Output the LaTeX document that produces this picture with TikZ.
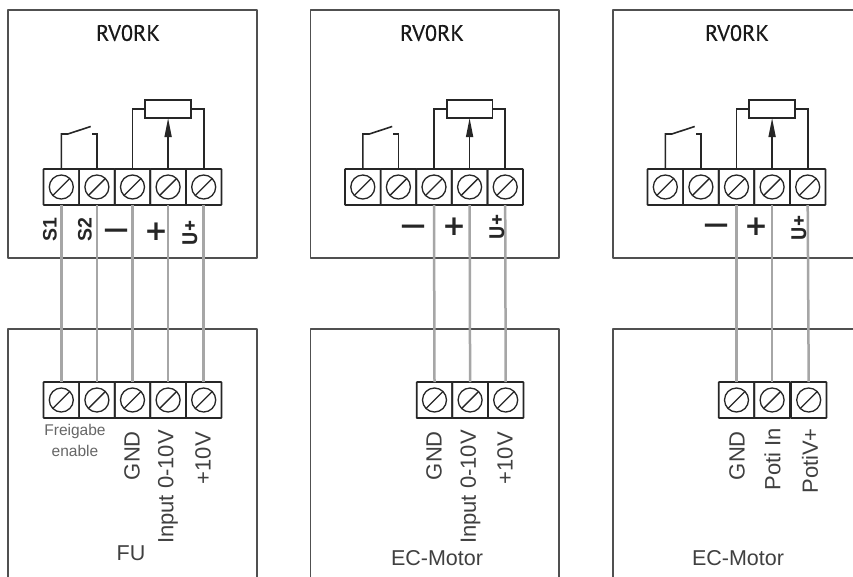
\documentclass[tikz,border=0pt]{standalone}
\usepackage{fontspec}
\setmainfont{Liberation Sans}
\newfontfamily\dinfont{PT Sans}
\newfontfamily\titlefont[FakeBold=0.5]{PT Sans}
\newfontfamily\symfont{DejaVu Sans}
\usetikzlibrary{arrows.meta}
\definecolor{boxgray}{HTML}{505050}
\definecolor{inkdark}{HTML}{262626}
\definecolor{wiregray}{HTML}{A6A6A6}
\definecolor{labelgray}{HTML}{404040}
\tikzset{
  housing/.style={draw=boxgray,line width=1.7pt,line join=round},
  termcell/.style={draw=inkdark,line width=1.7pt,rectangle,minimum width=35.6pt,minimum height=36pt,inner sep=0pt,outer sep=0pt,rounded corners=0.5pt},
  screwhead/.style={draw=inkdark,line width=1.3pt,circle,minimum size=24pt,inner sep=0pt,
    path picture={\draw[inkdark,line width=1.3pt] (path picture bounding box.south west)--(path picture bounding box.north east);}},
  intwire/.style={draw=inkdark,line width=1.6pt},
  linkwire/.style={draw=wiregray,line width=2.5pt},
  potbox/.style={draw=inkdark,line width=1.7pt,rectangle,minimum width=45.8pt,minimum height=18pt,inner sep=0pt,outer sep=0pt},
  wiper/.style={intwire,-{Triangle[length=19pt,width=7pt]}},
  titletext/.style={font=\titlefont\fontsize{22.3}{22.3}\selectfont,text=black!90},
  polebold/.style={font=\bfseries\fontsize{19.5}{19.5}\selectfont,text=inkdark,rotate=90,inner sep=0pt},
  polesym/.style={font=\symfont\bfseries\fontsize{28}{28}\selectfont,text=inkdark,inner sep=0pt},
  polebar/.style={font=\symfont\bfseries\fontsize{25}{25}\selectfont,text=inkdark,inner sep=0pt},
  poleu/.style={font=\dinfont\bfseries\fontsize{21}{21}\selectfont,text=inkdark,rotate=90,inner sep=0pt},
  sidelabel/.style={font=\fontsize{22}{22}\selectfont,text=labelgray,rotate=90,anchor=east,inner sep=0pt},
  devlabel/.style={font=\fontsize{21.5}{21.5}\selectfont,text=labelgray,inner sep=0pt},
  smalllabel/.style={font=\fontsize{15.5}{15.5}\selectfont,text=black!60,inner sep=0pt},
}
% one terminal: name, x, y
\newcommand{\termat}[3]{%
  \node[termcell] (#1) at (#2,#3) {};
  \node[screwhead] (#1s) at (#2,#3) {};
}
% upper unit: prefix, left edge of block
\newcommand{\upperunit}[2]{%
  \termat{#1a}{#2+17.8}{187}
  \termat{#1b}{#2+53.4}{187}
  \termat{#1c}{#2+89}{187}
  \termat{#1d}{#2+124.6}{187}
  \termat{#1e}{#2+160.2}{187}
  \node[potbox] (#1pot) at (#2+124.6,109) {};
  \draw[intwire] (#1c.north) |- (#1pot.west);
  \draw[intwire] (#1e.north) |- (#1pot.east);
  \draw[wiper] (#1d.north) -- (#1pot.south);
  \coordinate (#1sa) at (#2+24.3,134);
  \coordinate (#1sb) at (#2+47.2,126.5);
  \coordinate (#1sc) at (#2+48.2,134);
  \draw[intwire] (#1a.north) |- (#1sa) -- (#1sb);
  \draw[intwire] (#1b.north) |- (#1sc);
}
\begin{document}
\begin{tikzpicture}[x=1pt,y=-1pt]
\useasboundingbox (0,0) rectangle (853,576);
\fill[white] (0,0) rectangle (853,576);
% housings
\draw[housing] (8,10) rectangle (257,258);
\draw[housing] (310.5,10) rectangle (559,258);
\draw[housing] (856,10) -- (613,10) -- (613,258) -- (856,258);
\draw[housing] (8,579) -- (8,329) -- (257,329) -- (257,579);
\draw[housing] (310.5,579) -- (310.5,329) -- (559,329) -- (559,579);
\draw[housing] (613,579) -- (613,329) -- (856,329);
% titles
\node[titletext] (t1) at (128,33) {RV0RK};
\node[titletext] (t2) at (432,33) {RV0RK};
\node[titletext] (t3) at (737,33) {RV0RK};
% upper units
\upperunit{p}{43.5}
\upperunit{q}{345}
\upperunit{r}{647.5}
% lower terminals
\termat{la}{61.3}{400}
\termat{lb}{96.9}{400}
\termat{lc}{132.5}{400}
\termat{ld}{168.1}{400}
\termat{le}{203.7}{400}
\termat{mc}{434.5}{400}
\termat{md}{470.1}{400}
\termat{me}{505.7}{400}
\termat{nc}{736.5}{400}
\termat{nd}{772.1}{400}
\termat{ne}{808.7}{400}
% link wires
\draw[linkwire] (pa.south) -- (la.north);
\draw[linkwire] (pb.south) -- (lb.north);
\draw[linkwire] (pc.south) -- (lc.north);
\draw[linkwire] (pd.south) -- (ld.north);
\draw[linkwire] (pe.south) -- (le.north);
\draw[linkwire] (qc.south) -- (mc.north);
\draw[linkwire] (qd.south) -- (md.north);
\draw[linkwire] (qe.south) -- (me.north);
\draw[linkwire] (rc.south) -- (nc.north);
\draw[linkwire] (rd.south) -- (nd.north);
\draw[linkwire] (re.south) -- (ne.north);
% pole marks, unit 1
\node[polebold] (s1) at (50,230) {S1};
\node[polebold] (s2) at (85,230) {S2};
\node[polebar] (minus1) at (116,233) {—};
\node[polesym] (plus1) at (156,232) {+};
\node[poleu] (u1) at (190,233) {U+};
% pole marks, unit 2
\node[polebar] (minus2) at (413,229) {—};
\node[polesym] (plus2) at (454,227) {+};
\node[poleu] (u2) at (497,227) {U+};
% pole marks, unit 3
\node[polebar] (minus3) at (716,228) {—};
\node[polesym] (plus3) at (756,227) {+};
\node[poleu] (u3) at (799,228) {U+};
% lower labels, unit 1
\node[smalllabel] (fr) at (75,431) {Freigabe};
\node[smalllabel] (en) at (75,451) {enable};
\node[sidelabel] (g1) at (132,431) {GND};
\node[sidelabel] (i1) at (168,430) {Input 0-10V};
\node[sidelabel] (v1) at (203,432) {+10V};
\node[devlabel] (fu) at (131,553) {FU};
% lower labels, unit 2
\node[sidelabel] (g2) at (434,431) {GND};
\node[sidelabel] (i2) at (470.5,430) {Input 0-10V};
\node[sidelabel] (v2) at (505,432) {+10V};
\node[devlabel] (ec1) at (437,558) {EC-Motor};
% lower labels, unit 3
\node[sidelabel] (g3) at (737,431) {GND};
\node[sidelabel] (i3) at (772.5,428) {Poti In};
\node[sidelabel] (v3) at (810,428) {PotiV+};
\node[devlabel] (ec2) at (738,558) {EC-Motor};
\end{tikzpicture}
\end{document}
